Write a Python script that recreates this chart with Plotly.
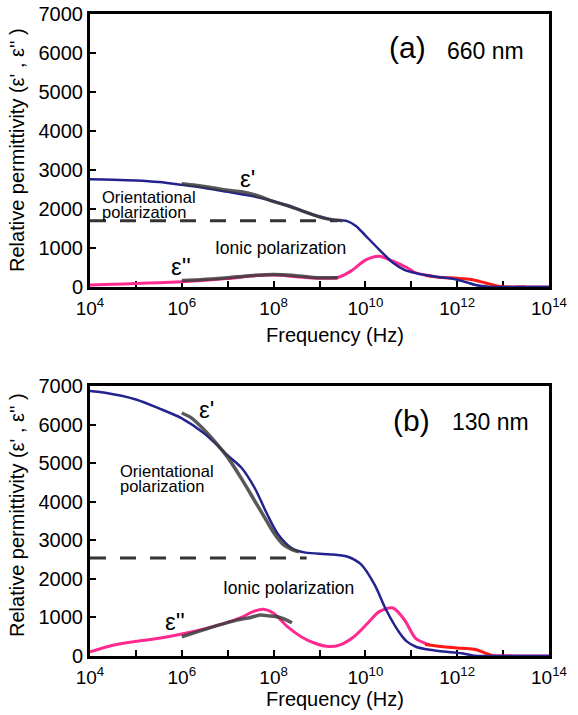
import plotly.graph_objects as go

# ---------------- data (exponents of frequency in Hz, permittivity values) -------------
# Panel (a) 660 nm
a_eps1_exp = [4.0, 4.5, 5.0, 5.5, 6.0, 6.5, 7.0, 7.5, 8.0, 8.5, 9.0, 9.3, 9.6, 9.8, 10.0, 10.3, 10.6, 10.85, 11.1, 11.5, 11.95, 12.2, 12.4, 12.7, 13.0, 14.0]
a_eps1_val = [2760, 2750, 2730, 2690, 2620, 2540, 2440, 2340, 2200, 2010, 1800, 1720, 1690, 1560, 1320, 960, 620, 440, 355, 270, 200, 120, 50, 5, 0, 0]

a_eps2_exp = [4.0, 4.5, 5.0, 5.5, 6.0, 6.5, 7.0, 7.5, 8.0, 8.5, 9.0, 9.4, 9.7, 10.0, 10.3, 10.6, 10.9, 11.1, 11.5]
a_eps2_val = [50, 70, 90, 110, 135, 170, 215, 280, 305, 265, 225, 245, 420, 690, 790, 660, 500, 360, 265]

a_red_exp = [11.3, 11.6, 12.0, 12.3, 12.6, 12.9, 13.2, 13.5]
a_red_val = [300, 250, 225, 195, 110, 20, 0, 0]

a_tail_exp = [13.3, 14.0]
a_tail_val = [0, 0]

a_exp1_exp = [6.0, 6.3, 6.6, 7.0, 7.3, 7.6, 8.0, 8.3, 8.6, 9.0, 9.2, 9.5]
a_exp1_val = [2650, 2610, 2560, 2480, 2440, 2360, 2190, 2090, 1960, 1800, 1740, 1700]

a_exp2_exp = [6.0, 6.4, 6.8, 7.2, 7.6, 8.0, 8.4, 8.8, 9.1, 9.4]
a_exp2_val = [165, 185, 220, 260, 300, 320, 300, 250, 235, 240]

a_dash_exp = [4.0, 9.4]
a_dash_val = [1700, 1700]

# Panel (b) 130 nm
b_eps1_exp = [4.0, 4.3, 5.0, 5.5, 6.0, 6.5, 7.0, 7.3, 7.6, 7.85, 8.1, 8.4, 8.7, 9.2, 9.6, 9.9, 10.2, 10.45, 10.75, 10.9, 11.1, 11.4, 11.7, 12.1, 12.4, 12.7, 14.0]
b_eps1_val = [6870, 6830, 6650, 6420, 6160, 5760, 5200, 4880, 4330, 3700, 3150, 2790, 2680, 2640, 2580, 2380, 1850, 1200, 590, 380, 240, 160, 115, 70, 5, 0, 0]

b_eps2_exp = [4.0, 4.5, 5.0, 5.5, 6.0, 6.8, 7.3, 7.55, 7.78, 8.0, 8.3, 8.6, 8.9, 9.2, 9.45, 9.75, 10.05, 10.3, 10.6, 10.85, 11.1, 11.4]
b_eps2_val = [110, 280, 380, 460, 570, 800, 1000, 1150, 1210, 1110, 760, 500, 330, 245, 290, 500, 850, 1150, 1245, 940, 450, 290]

b_red_exp = [11.3, 11.7, 12.1, 12.4, 12.6, 12.8, 13.2]
b_red_val = [300, 240, 200, 170, 80, 0, 0]

b_tail_exp = [12.8, 14.0]
b_tail_val = [0, 0]

b_exp1_exp = [6.0, 6.2, 6.5, 6.8, 7.0, 7.3, 7.5, 7.8, 8.0, 8.2, 8.4, 8.55]
b_exp1_val = [6300, 6180, 5850, 5450, 5150, 4600, 4200, 3600, 3200, 2900, 2760, 2700]

b_exp2_exp = [6.0, 6.4, 6.8, 7.2, 7.5, 7.7, 7.9, 8.1, 8.25, 8.4]
b_exp2_val = [500, 650, 800, 930, 1000, 1060, 1040, 1010, 950, 860]

b_dash_exp = [4.0, 8.72]
b_dash_val = [2540, 2540]

x_tick_exp = list(range(4, 15))
x_tick_text = ["10<sup>%d</sup>" % e if e % 2 == 0 else "" for e in x_tick_exp]
y_ticks = [0, 1000, 2000, 3000, 4000, 5000, 6000, 7000]

# ---------------- styling ----------------
W, H = 578, 715
BLUE = "#23238f"
PINK = "#ff2a90"
RED = "#ff1818"
GRAY = "rgba(60,60,60,0.85)"
FONT = "Liberation Sans, Arial, sans-serif"


def hz(exps):
    return [10 ** e for e in exps]


fig = go.Figure()


def add(exps, vals, color, width, xa, ya, dash=None, shape="spline"):
    fig.add_trace(go.Scatter(
        x=hz(exps), y=vals, mode="lines", xaxis=xa, yaxis=ya,
        line=dict(color=color, width=width, dash=dash, shape=shape, smoothing=0.8),
        showlegend=False, hoverinfo="skip"))


for xa, ya, sets in [
    ("x", "y", dict(e1=(a_eps1_exp, a_eps1_val), e2=(a_eps2_exp, a_eps2_val), red=(a_red_exp, a_red_val),
                    tail=(a_tail_exp, a_tail_val), g1=(a_exp1_exp, a_exp1_val), g2=(a_exp2_exp, a_exp2_val),
                    dash=(a_dash_exp, a_dash_val))),
    ("x2", "y2", dict(e1=(b_eps1_exp, b_eps1_val), e2=(b_eps2_exp, b_eps2_val), red=(b_red_exp, b_red_val),
                      tail=(b_tail_exp, b_tail_val), g1=(b_exp1_exp, b_exp1_val), g2=(b_exp2_exp, b_exp2_val),
                      dash=(b_dash_exp, b_dash_val))),
]:
    add(*sets["dash"], "#333333", 3, xa, ya, dash="16px,14px", shape="linear")
    add(*sets["e2"], PINK, 3, xa, ya)
    add(*sets["tail"], "#e0209a", 3, xa, ya, shape="linear")
    add(*sets["red"], RED, 3, xa, ya)
    add(*sets["e1"], BLUE, 2.5, xa, ya)
    add(*sets["g1"], GRAY, 3.5, xa, ya)
    add(*sets["g2"], GRAY, 3.5, xa, ya)


def px(x):
    return x / W


def py(y):
    return 1 - y / H


xdom = [px(90), px(549)]
common_x = dict(type="log", range=[4, 14], tickvals=hz(x_tick_exp), ticktext=x_tick_text,
                ticks="inside", ticklen=6, tickwidth=1.5, tickcolor="black",
                showline=True, linewidth=3, linecolor="black", mirror=True,
                showgrid=False, zeroline=False, layer="below traces", automargin=False,
                tickfont=dict(family=FONT, size=19, color="black"), ticklabelstandoff=2)
common_y = dict(range=[0, 7000], tickvals=y_ticks, ticks="inside", ticklen=6, tickwidth=1.5,
                tickcolor="black", showline=True, linewidth=3, linecolor="black", mirror=True,
                showgrid=False, zeroline=False, layer="below traces", automargin=False,
                tickfont=dict(family=FONT, size=20, color="black"))

fig.update_layout(
    width=W, height=H, margin=dict(l=0, r=0, t=0, b=0, autoexpand=False),
    paper_bgcolor="white", plot_bgcolor="white", showlegend=False,
    xaxis=dict(domain=xdom, anchor="y", **common_x),
    yaxis=dict(domain=[py(287), py(14)], anchor="x", **common_y),
    xaxis2=dict(domain=xdom, anchor="y2", **common_x),
    yaxis2=dict(domain=[py(656), py(386)], anchor="x2", **common_y),
)

ann = []


def text(x, y, s, size, xanchor="center", angle=0):
    ann.append(dict(x=px(x), y=py(y), xref="paper", yref="paper", text=s, showarrow=False,
                    xanchor=xanchor, yanchor="middle", textangle=angle,
                    font=dict(family=FONT, size=size, color="black")))


# panel (a)
text(247, 179, "ε'", 24)
text(100, 197, "Orientational", 16.5, xanchor="left")
text(100, 212, "polarization", 16.5, xanchor="left")
text(280, 248, "Ionic polarization", 17.5)
text(181, 267, "ε''", 24)
text(407, 47, "(a)", 30)
text(485, 51, "660 nm", 23)
text(335, 335, "Frequency (Hz)", 20)
text(17, 150, "Relative permittivity (ε' , ε'' )", 20, angle=-90)

# panel (b)
text(206, 409, "ε'", 24)
text(118, 471, "Orientational", 16.5, xanchor="left")
text(118, 486, "polarization", 16.5, xanchor="left")
text(288, 588, "Ionic polarization", 17.5)
text(175, 621, "ε''", 24)
text(411, 420, "(b)", 30)
text(490, 422, "130 nm", 23)
text(335, 699, "Frequency (Hz)", 20)
text(17, 515, "Relative permittivity (ε' , ε'' )", 20, angle=-90)

fig.update_layout(annotations=ann)
fig.write_html("out.html", config={"displayModeBar": False},
               post_script="document.body.style.margin='0px';")
